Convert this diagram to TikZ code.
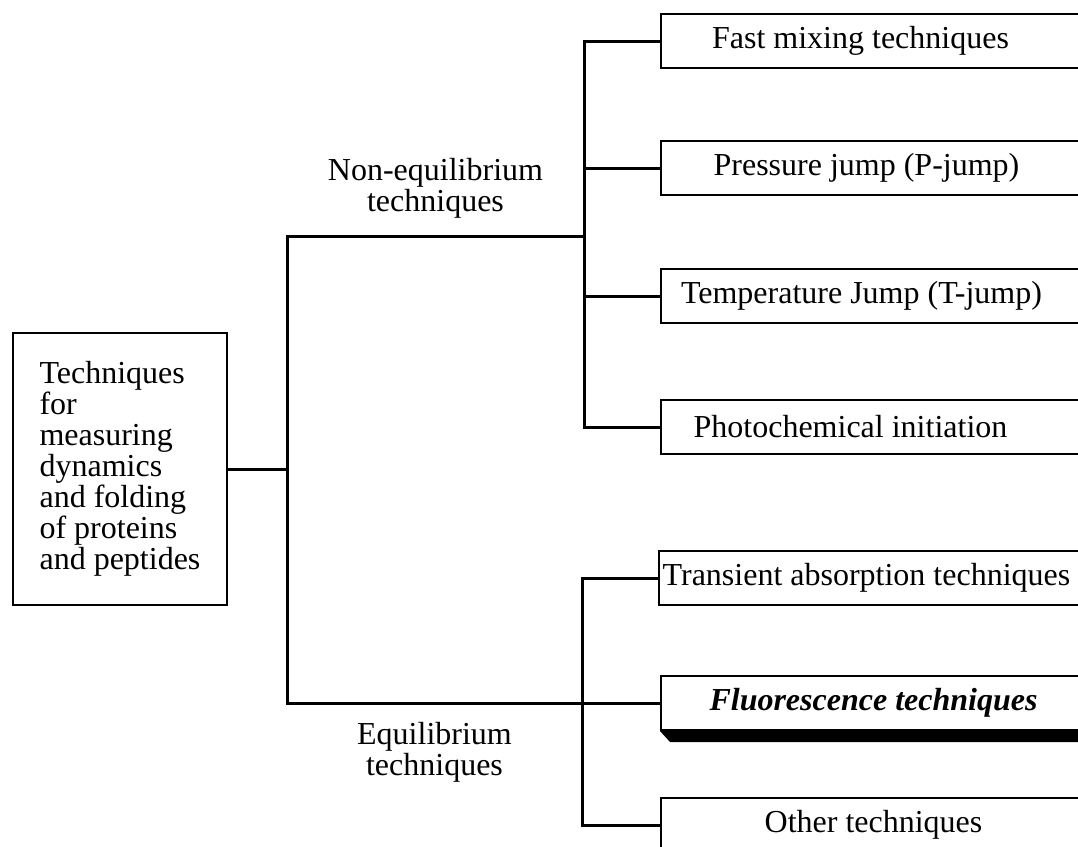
\documentclass[tikz,border=0pt]{standalone}
\usepackage{fontspec}
\setmainfont{Liberation Serif}

\begin{document}
\begin{tikzpicture}[x=0.5pt,y=-0.5pt,
    line/.style={line width=1.5pt},
    txt/.style={font=\fontsize{16}{15.5}\selectfont, align=center},
    tbox/.style={txt, draw, line width=1pt, anchor=west, minimum width=212.5pt, minimum height=27pt, inner sep=0pt}]
    \useasboundingbox (0,0) rectangle (1078,847);

    % Ana kutu
    \node[txt, draw, line width=1pt, align=left, minimum width=107pt, minimum height=136pt] (root) at (120,469) {Techniques\\for\\measuring\\dynamics\\and folding\\of proteins\\and peptides};

    % Dal noktalari
    \coordinate (j0) at (287,469);
    \coordinate (jn) at (287,236);
    \coordinate (je) at (287,703);
    \coordinate (sn) at (584,236);
    \coordinate (se) at (582,703);

    % Denge disi teknikler
    \node[tbox] (fast) at (660,41) {Fast mixing techniques\hspace*{13pt}};
    \node[tbox] (pjump) at (660,168) {Pressure jump (P-jump)\hspace*{7pt}};
    \node[tbox] (tjump) at (660,296) {Temperature Jump (T-jump)\hspace*{12pt}};
    \node[tbox] (photo) at (660,427) {Photochemical initiation\hspace*{23pt}};

    % Denge teknikleri
    \node[tbox] (trans) at (658,578) {Transient absorption techniques\hspace*{5pt}};
    \node[tbox] (fluor) at (660,703) {\textbf{\textit{Fluorescence techniques}}};
    \node[tbox] (other) at (660,825) {Other techniques};
    \fill (fluor.south west) -- ++(10,11) -| (fluor.south east) -- cycle;

    % Baglantilar
    \draw[line] (root.east) -- (j0);
    \draw[line] (sn) -- node[txt, above=4.75pt] {Non-equilibrium\\techniques} (jn)
        -- (je) -- node[txt, below=5.5pt] {Equilibrium\\techniques} (se);
    \draw[line] (fast.west) -| (sn) |- (photo.west);
    \draw[line] (pjump.west) -- (pjump.west -| sn);
    \draw[line] (tjump.west) -- (tjump.west -| sn);
    \draw[line] (trans.west) -| (se) |- (other.west);
    \draw[line] (fluor.west) -- (fluor.west -| se);
\end{tikzpicture}
\end{document}
